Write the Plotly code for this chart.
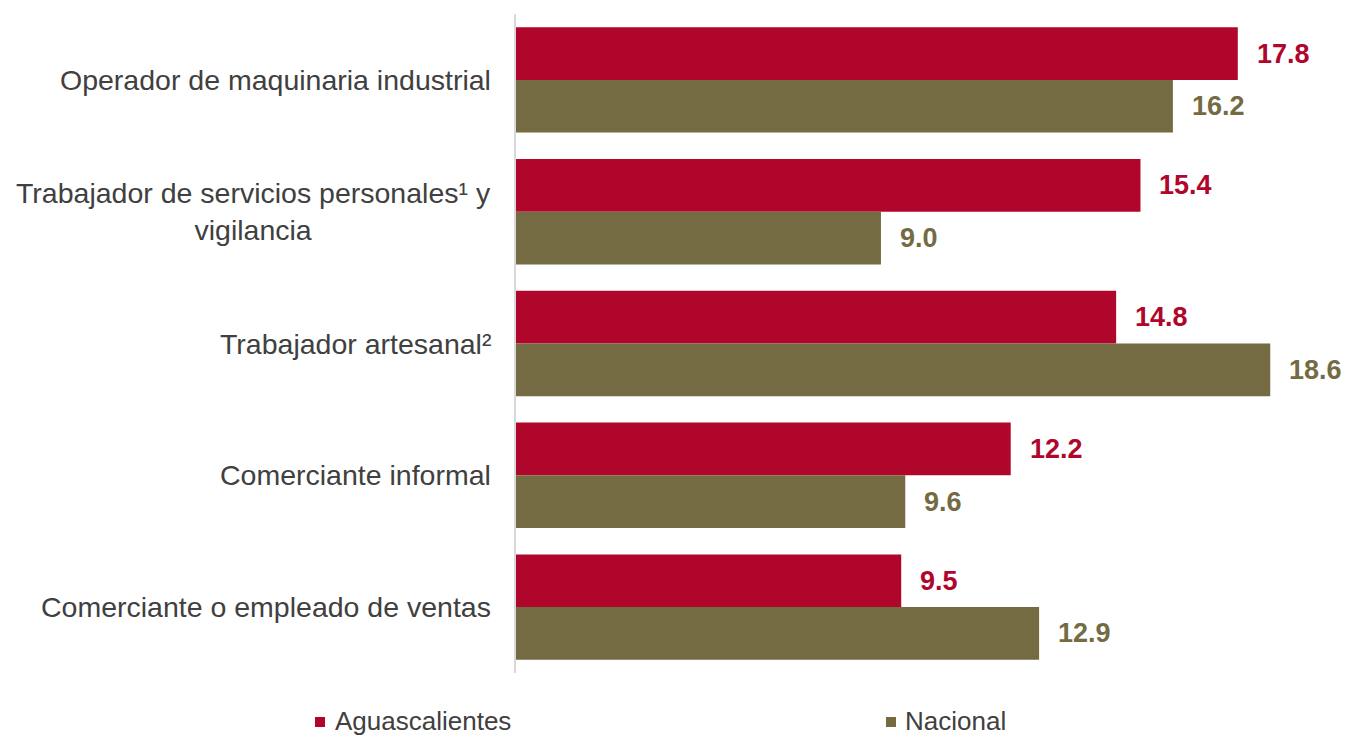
import plotly.graph_objects as go

categories = [
    "Operador de maquinaria industrial",
    "Trabajador de servicios personales¹ y<br>vigilancia",
    "Trabajador artesanal²",
    "Comerciante informal",
    "Comerciante o empleado de ventas",
]
aguascalientes = [17.8, 15.4, 14.8, 12.2, 9.5]
nacional = [16.2, 9.0, 18.6, 9.6, 12.9]
series_names = ["Aguascalientes", "Nacional"]

RED = "#b0062c"
OLIVE = "#746b43"
FONT = "Liberation Sans, Arial, sans-serif"

# plot area in window pixels: x 516..1327, y 14..673
def px_x(X):
    return (X - 516) / 811

def px_y(Y):
    return (673 - Y) / 659

fig = go.Figure()
for name, vals, col in [(series_names[0], aguascalientes, RED), (series_names[1], nacional, OLIVE)]:
    fig.add_trace(go.Bar(
        y=categories, x=vals, name=name, orientation="h",
        marker=dict(color=col, line=dict(width=0)),
        offsetgroup=name, showlegend=False,
    ))

annotations = []
for c in categories:
    annotations.append(dict(
        x=0, y=c, xref="x", yref="y", text=c, showarrow=False,
        xanchor="right", yanchor="middle", align="center", xshift=-23,
        font=dict(family=FONT, size=28.5, color="#404040"),
    ))
for vals, col, off in [(aguascalientes, RED, -0.2), (nacional, OLIVE, 0.2)]:
    for i, v in enumerate(vals):
        annotations.append(dict(
            x=v, y=i + off, xref="x", yref="y", text=f"<b>{v:.1f}</b>", showarrow=False,
            xanchor="left", yanchor="middle", xshift=17,
            font=dict(family=FONT, size=27, color=col),
        ))

shapes = []
for name, col, sq_x, tx_x in [(series_names[0], RED, 315, 333), (series_names[1], OLIVE, 886, 903)]:
    shapes.append(dict(
        type="rect", xref="paper", yref="paper",
        xsizemode="pixel", ysizemode="pixel",
        xanchor=px_x(sq_x), yanchor=px_y(722),
        x0=0, x1=10, y0=-5, y1=5,
        fillcolor=col, line=dict(width=0),
    ))
    annotations.append(dict(
        x=px_x(tx_x), y=px_y(721), xref="paper", yref="paper",
        text=name, showarrow=False, xanchor="left", yanchor="middle",
        font=dict(family=FONT, size=26, color="#404040"),
    ))

fig.update_layout(
    width=1346, height=737,
    margin=dict(l=516, r=19, t=14, b=64),
    plot_bgcolor="white", paper_bgcolor="white",
    barmode="group", bargap=0.2, bargroupgap=0,
    xaxis=dict(range=[0, 20], visible=False, showgrid=False, zeroline=False),
    yaxis=dict(autorange="reversed", showticklabels=False, showgrid=False,
               showline=True, linecolor="#d9d9d9", linewidth=1.5, ticks=""),
    annotations=annotations,
    shapes=shapes,
    font=dict(family=FONT),
)

fig.write_html(
    "out.html",
    config={"displayModeBar": False},
    post_script="document.body.style.margin='0';document.body.style.overflow='hidden';",
)
